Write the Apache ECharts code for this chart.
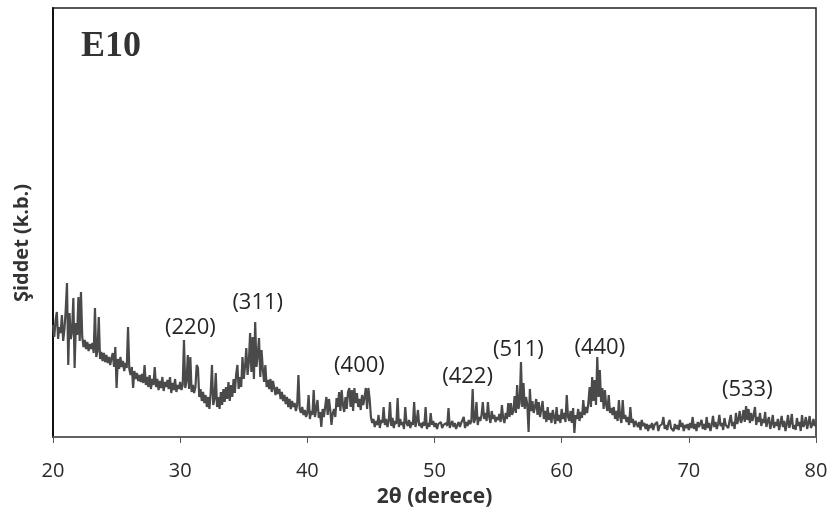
<!DOCTYPE html>
<html>
<head>
<meta charset="utf-8">
<script src="https://cdn.jsdelivr.net/npm/echarts@6/dist/echarts.min.js"></script>
<style>
  html, body { margin: 0; padding: 0; background: #ffffff; }
  #chart { width: 834px; height: 519px; }
</style>
</head>
<body>
<div id="chart"></div>
<script>
// XRD pattern of sample E10, 2θ from 20° to 80° sampled every 0.1°
const thetaStart = 20;
const thetaStep = 0.1;

// Intensity (arbitrary units), one row per degree: 20.0 ... 20.9, 21.0 ... 21.9, etc.
const intensity = [
  112, 100, 116, 125, 98, 110, 104, 122, 96, 108,
  127, 154, 72, 124, 98, 106, 139, 69, 114, 102,
  140, 96, 145, 100, 90, 97, 88, 95, 86, 93,
  88, 94, 84, 129, 80, 86, 120, 78, 85, 76,
  84, 75, 82, 74, 80, 72, 79, 84, 70, 90,
  49, 78, 68, 80, 70, 76, 66, 74, 69, 110,
  68, 62, 70, 49, 66, 58, 64, 56, 62, 55,
  63, 54, 72, 52, 60, 50, 62, 48, 58, 52,
  70, 50, 58, 47, 56, 49, 60, 46, 55, 50,
  57, 48, 60, 44, 54, 47, 58, 45, 52, 48,
  55, 47, 52, 97, 49, 56, 82, 48, 80, 45,
  52, 44, 50, 72, 69, 40, 48, 36, 45, 34,
  42, 30, 40, 28, 44, 72, 32, 38, 64, 30,
  40, 28, 45, 32, 48, 35, 50, 38, 55, 36,
  52, 40, 58, 44, 62, 72, 48, 60, 50, 80,
  58, 70, 89, 62, 75, 104, 65, 100, 58, 115,
  70, 82, 99, 60, 87, 68, 55, 72, 50, 57,
  48, 58, 45, 56, 57, 42, 50, 43, 48, 38,
  45, 36, 42, 33, 40, 30, 38, 28, 36, 30,
  34, 26, 32, 62, 28, 24, 30, 22, 27, 20,
  24, 42, 18, 26, 22, 47, 20, 28, 37, 19,
  25, 10, 28, 20, 30, 40, 22, 38, 27, 12,
  24, 28, 20, 39, 30, 45, 26, 47, 32, 25,
  40, 28, 45, 49, 30, 47, 26, 49, 34, 44,
  30, 38, 27, 42, 32, 40, 49, 28, 49, 38,
  20, 14, 18, 10, 16, 12, 22, 9, 17, 14,
  30, 12, 18, 10, 16, 35, 11, 19, 9, 16,
  13, 39, 10, 18, 12, 15, 8, 30, 14, 11,
  17, 9, 15, 12, 35, 10, 16, 27, 11, 14,
  9, 15, 11, 30, 8, 14, 10, 24, 12, 16,
  10, 14, 8, 13, 11, 15, 9, 12, 10, 14,
  11, 29, 9, 13, 16, 10, 14, 8, 12, 15,
  10, 14, 12, 20, 9, 15, 11, 17, 13, 16,
  48, 14, 18, 35, 12, 20, 16, 22, 35, 18,
  24, 16, 35, 20, 14, 26, 18, 22, 15, 20,
  17, 23, 15, 32, 19, 14, 24, 18, 34, 20,
  34, 22, 26, 41, 24, 52, 28, 34, 75, 30,
  54, 28, 40, 32, 5, 48, 26, 36, 24, 30,
  38, 22, 35, 20, 28, 36, 18, 26, 15, 30,
  17, 24, 14, 27, 20, 13, 30, 16, 22, 14,
  28, 18, 24, 15, 42, 20, 16, 26, 14, 29,
  4, 22, 18, 28, 16, 25, 19, 37, 22, 30,
  24, 34, 50, 30, 60, 36, 57, 32, 80, 40,
  67, 35, 49, 28, 47, 32, 26, 42, 24, 29,
  22, 30, 18, 26, 16, 37, 20, 14, 37, 18,
  22, 15, 20, 12, 30, 14, 18, 10, 16, 13,
  10, 15, 7, 17, 11, 14, 8, 13, 6, 12,
  9, 14, 7, 12, 10, 15, 6, 11, 9, 13,
  20, 8, 12, 7, 14, 17, 9, 11, 6, 13,
  8, 12, 7, 17, 10, 14, 6, 12, 9, 13,
  7, 14, 9, 20, 8, 13, 6, 15, 10, 12,
  17, 8, 13, 7, 20, 9, 14, 6, 12, 21,
  10, 15, 8, 13, 22, 11, 14, 7, 19, 12,
  14, 9, 16, 22, 11, 15, 8, 24, 13, 17,
  26, 14, 18, 27, 15, 31, 17, 28, 14, 24,
  16, 22, 30, 12, 20, 15, 24, 11, 18, 14,
  25, 10, 16, 20, 8, 13, 22, 9, 15, 11,
  18, 7, 14, 21, 10, 16, 6, 13, 22, 9,
  14, 23, 8, 12, 7, 19, 11, 15, 6, 22,
  10, 13, 20, 8, 14, 21, 9, 12, 18, 11,
  14
];

// Miller indices of the reflections and where their labels sit (2θ, intensity)
const peakNames = ['(220)', '(311)', '(400)', '(422)', '(511)', '(440)', '(533)'];
const peakLabelTheta = [30.8, 36.1, 44.1, 52.6, 56.6, 63.0, 74.6];
const peakLabelLevel = [109, 134, 71, 60, 87, 89, 47];

// X axis ticks
const xTicks = [20, 30, 40, 50, 60, 70, 80];

const pattern = intensity.map((v, i) => [+(thetaStart + i * thetaStep).toFixed(1), v]);
const peakLabels = peakNames.map((n, i) => ({ name: n, value: [peakLabelTheta[i], peakLabelLevel[i]] }));

const textFont = 'Open Sans';
const chart = echarts.init(document.getElementById('chart'), null, { renderer: 'canvas' });

chart.setOption({
  animation: false,
  backgroundColor: '#ffffff',
  title: {
    text: 'E10',
    left: 76,
    top: 24,
    textStyle: {
      fontFamily: 'Liberation Serif',
      fontWeight: 'bold',
      fontSize: 36,
      color: '#333333'
    }
  },
  // vertical axis title, sitting a little below the middle of the axis
  graphic: [
    {
      type: 'text',
      x: 22,
      y: 243,
      rotation: Math.PI / 2,
      style: {
        text: 'Şiddet (k.b.)',
        fontFamily: textFont,
        fontWeight: 'bold',
        fontSize: 20,
        fill: '#333333',
        align: 'center',
        verticalAlign: 'middle'
      }
    }
  ],
  grid: {
    left: 53,
    right: 18,
    top: 8,
    bottom: 82,
    show: true,
    borderColor: '#222222',
    borderWidth: 1.5,
    backgroundColor: 'transparent'
  },
  xAxis: {
    type: 'value',
    min: xTicks[0],
    max: xTicks[xTicks.length - 1],
    interval: 10,
    name: '2θ (derece)',
    nameLocation: 'middle',
    nameGap: 50,
    nameTextStyle: { fontFamily: textFont, fontWeight: 'bold', fontSize: 21, color: '#333333' },
    axisLine: { show: true, lineStyle: { color: '#666666', width: 1.5 } },
    axisTick: { show: true, length: 6, lineStyle: { color: '#555555', width: 1 } },
    axisLabel: { fontFamily: textFont, fontSize: 20, color: '#2a2a2a', margin: 24 },
    splitLine: { show: false }
  },
  yAxis: {
    type: 'value',
    min: 0,
    max: 429,
    axisLine: { show: true, lineStyle: { color: '#111111', width: 2 } },
    axisTick: { show: false },
    axisLabel: { show: false },
    splitLine: { show: false }
  },
  series: [
    {
      type: 'line',
      data: pattern,
      showSymbol: false,
      symbol: 'none',
      lineStyle: { color: '#4a4a4a', width: 2.2 },
      z: 2
    },
    {
      type: 'scatter',
      data: peakLabels,
      symbolSize: 0,
      itemStyle: { opacity: 1 },
      label: {
        show: true,
        position: 'inside',
        formatter: p => p.name,
        fontFamily: textFont,
        fontSize: 22,
        color: '#262626'
      },
      z: 3
    }
  ]
});
</script>
</body>
</html>
